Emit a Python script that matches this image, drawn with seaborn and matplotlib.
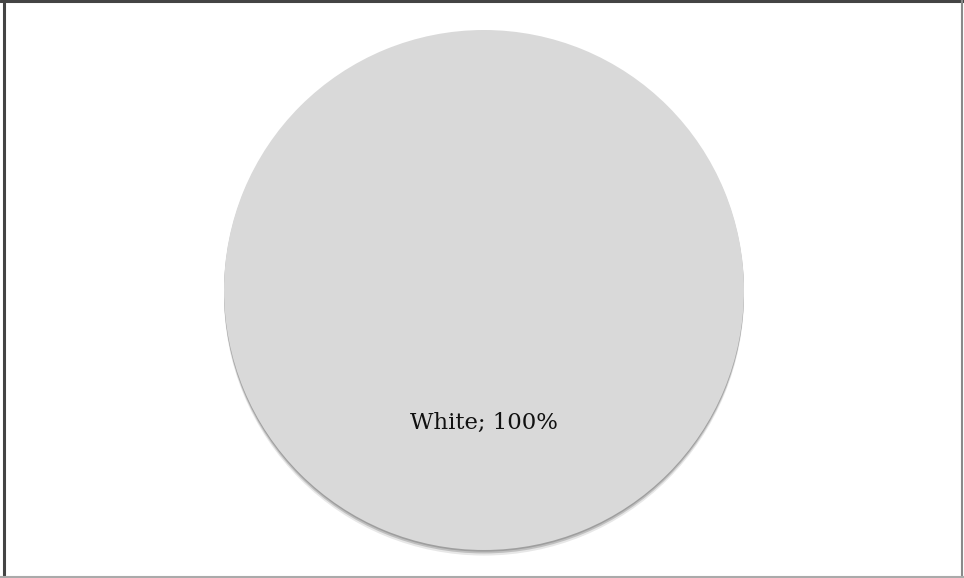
import matplotlib
matplotlib.use("Agg")
import matplotlib.pyplot as plt
import matplotlib.patheffects as pe
from matplotlib.lines import Line2D
import seaborn as sns

# Data
categories = ["White"]
shares = [100]

sns.set_theme(style="white")
plt.rcParams['font.family'] = ['DejaVu Serif', 'Liberation Serif']

W, H = 964, 578
fig = plt.figure(figsize=(W / 100, H / 100), dpi=100)
fig.patch.set_facecolor("white")

# pie: centre ~(484, 290) px, radius ~260 px
cx, cy, r = 484, H - 290, 260
ax = fig.add_axes([(cx - r) / W, (cy - r) / H, 2 * r / W, 2 * r / H])

labels = [f"{c}; {v}%" for c, v in zip(categories, shares)]
wedges, texts = ax.pie(shares, labels=labels, colors=["#d9d9d9"],
                       startangle=90, counterclock=False, labeldistance=0.51,
                       textprops={"fontsize": 16.4, "color": "#111111",
                                  "ha": "center", "va": "center"},
                       wedgeprops={"linewidth": 0})
# soft drop shadow below the pie
for w in wedges:
    w.set_path_effects([
        pe.SimplePatchShadow(offset=(0, -4), shadow_rgbFace="#bbbbbb", alpha=0.35),
        pe.SimplePatchShadow(offset=(0, -2.5), shadow_rgbFace="#999999", alpha=0.5),
        pe.SimplePatchShadow(offset=(0, -1.2), shadow_rgbFace="#888888", alpha=0.6),
        pe.Normal()])
ax.set_xlim(-1, 1)
ax.set_ylim(-1, 1)
ax.set_aspect("equal")
ax.axis("off")

# chart frame
fig.add_artist(Line2D([4 / W, 4 / W], [0, 1], color="#444444", lw=2.2))
fig.add_artist(Line2D([0, 1], [1 - 1 / H, 1 - 1 / H], color="#444444", lw=2.2))
fig.add_artist(Line2D([962 / W, 962 / W], [0, 1], color="#8a8a8a", lw=1.5))
fig.add_artist(Line2D([0, 1], [1 / H, 1 / H], color="#aaaaaa", lw=1.5))

fig.savefig("out.png", dpi=100)
